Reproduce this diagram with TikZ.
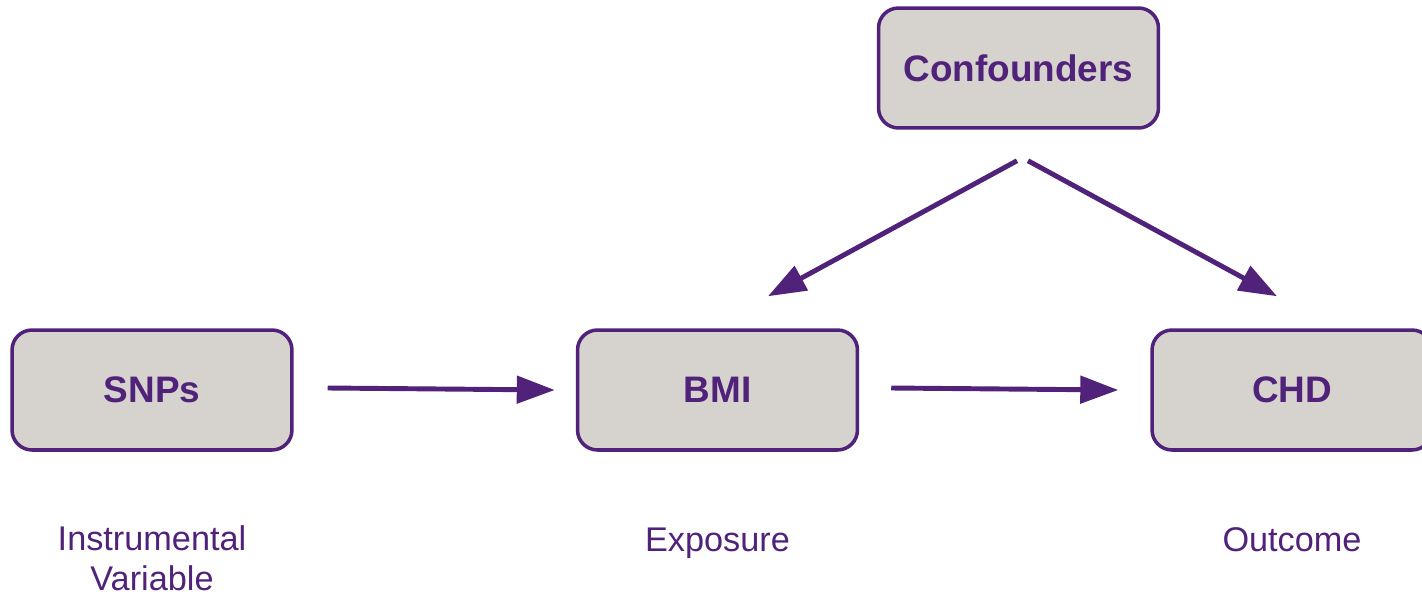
\documentclass[tikz,border=0pt]{standalone}
\usepackage{fontspec}
\setmainfont{Liberation Sans}
\usetikzlibrary{arrows.meta}
\definecolor{plum}{RGB}{80,34,122}
\definecolor{stone}{RGB}{214,210,205}
\tikzset{
  box/.style={draw=plum, fill=stone, line width=2pt, rounded corners=0.4cm,
    minimum width=5.6cm, minimum height=2.4cm, inner sep=0pt,
    text=plum, font=\fontsize{21}{25}\selectfont\bfseries},
  role/.style={text=plum, font=\fontsize{19.5}{22.7}\selectfont, align=center,
    inner sep=0pt, anchor=base},
  arr/.style={draw=plum, line width=2.8pt,
    -{Triangle[length=0.76cm, width=0.54cm]}}
}
\begin{document}
\begin{tikzpicture}[x=0.02cm, y=-0.02cm]
  \useasboundingbox (0,0) rectangle (1422,595);

  % variables
  \node[box] (conf) at (1018.5,68) {Confounders};
  \node[box] (snp)  at (152,390)   {SNPs};
  \node[box] (bmi)  at (717.5,390) {BMI};
  \node[box] (chd)  at (1292,390)  {CHD};

  % roles (the base anchor sits on the last line)
  \node[role] (iv)   at (152,590)   {Instrumental\\Variable};
  \node[role] (expo) at (717.5,551) {Exposure};
  \node[role] (outc) at (1292,551)  {Outcome};

  % causal paths
  \draw[arr] ([shift={(34,-2)}]snp.east) -- ([shift={(-21,0)}]bmi.west);
  \draw[arr] ([shift={(32,-2)}]bmi.east) -- ([shift={(-32,0)}]chd.west);
  \draw[arr] ([shift={(-1.5,31)}]conf.south) -- ([shift={(50.5,-32)}]bmi.north);
  \draw[arr] ([shift={(9.5,31)}]conf.south) -- ([shift={(-15,-32)}]chd.north);
\end{tikzpicture}
\end{document}
